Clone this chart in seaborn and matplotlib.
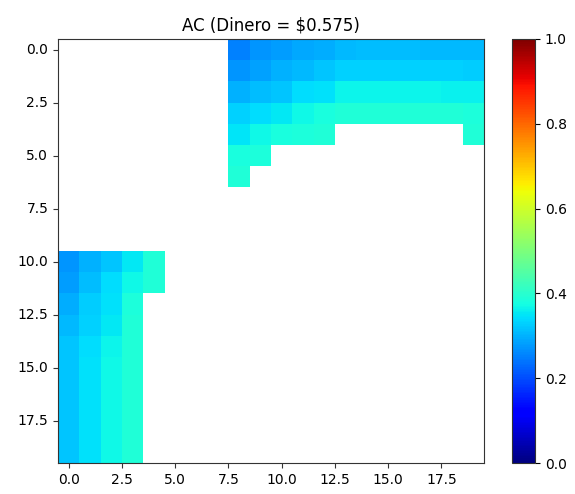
import numpy as np
import matplotlib
matplotlib.use("Agg")
import matplotlib.pyplot as plt
import seaborn as sns

nan = np.nan
n_rows, n_cols = 20, 20
title = "AC (Dinero = \\$0.575)"
tick_vals = [0.0, 2.5, 5.0, 7.5, 10.0, 12.5, 15.0, 17.5]
cbar_ticks = [0.0, 0.2, 0.4, 0.6, 0.8, 1.0]

# upper-right block: rows 0..6, starting at column 8
top_start_col = 8
top_rows = [
    [0.25, 0.27, 0.28, 0.29, 0.295, 0.305, 0.31, 0.31, 0.31, 0.305, 0.305, 0.305],
    [0.27, 0.285, 0.30, 0.305, 0.32, 0.33, 0.33, 0.33, 0.33, 0.33, 0.33, 0.325],
    [0.30, 0.31, 0.32, 0.34, 0.345, 0.365, 0.365, 0.365, 0.365, 0.365, 0.36, 0.36],
    [0.33, 0.34, 0.355, 0.37, 0.38, 0.39, 0.39, 0.39, 0.39, 0.39, 0.39, 0.385],
    [0.35, 0.37, 0.38, 0.385, 0.39, nan, nan, nan, nan, nan, nan, 0.39],
    [0.38, 0.385],
    [0.39],
]
# lower-left block: rows 10..19, starting at column 0
bottom_start_row = 10
bottom_rows = [
    [0.27, 0.30, 0.32, 0.355, 0.39],
    [0.28, 0.31, 0.34, 0.37, 0.39],
    [0.295, 0.325, 0.345, 0.385],
    [0.305, 0.33, 0.355, 0.39],
    [0.32, 0.34, 0.365, 0.39],
    [0.32, 0.345, 0.37, 0.39],
    [0.32, 0.345, 0.37, 0.39],
    [0.32, 0.345, 0.37, 0.39],
    [0.32, 0.345, 0.37, 0.39],
    [0.32, 0.345, 0.37, 0.39],
]

grid = np.full((n_rows, n_cols), np.nan)
for i, row in enumerate(top_rows):
    grid[i, top_start_col:top_start_col + len(row)] = row
for i, row in enumerate(bottom_rows):
    grid[bottom_start_row + i, 0:len(row)] = row

W, H = 575, 494
fig = plt.figure(figsize=(W / 100, H / 100), dpi=100)
ax = fig.add_axes([58 / W, 1 - 463 / H, 426 / W, 424 / H])
cax = fig.add_axes([512 / W, 1 - 463 / H, 23 / W, 424 / H])

sns.heatmap(grid, ax=ax, cbar_ax=cax, cmap="jet", vmin=0, vmax=1,
            mask=np.isnan(grid), square=False)

ax.set_xticks([v + 0.5 for v in tick_vals])
ax.set_xticklabels([f"{v:.1f}" for v in tick_vals], rotation=0, fontsize=10)
ax.set_yticks([v + 0.5 for v in tick_vals])
ax.set_yticklabels([f"{v:.1f}" for v in tick_vals], rotation=0, fontsize=10)
ax.tick_params(axis="both", length=3.5, width=0.8, color="#333333")
for s in ax.spines.values():
    s.set_visible(True)
    s.set_linewidth(0.8)
    s.set_color("#333333")
ax.set_title(title, fontsize=12, pad=6)

cbar = ax.collections[0].colorbar
cbar.set_ticks(cbar_ticks)
cbar.set_ticklabels([f"{v:.1f}" for v in cbar_ticks])
cbar.ax.tick_params(labelsize=10, length=3.5, width=0.8)
cbar.outline.set_visible(True)
cbar.outline.set_linewidth(0.8)
cbar.outline.set_edgecolor("#333333")

fig.savefig("out.png", dpi=100)
